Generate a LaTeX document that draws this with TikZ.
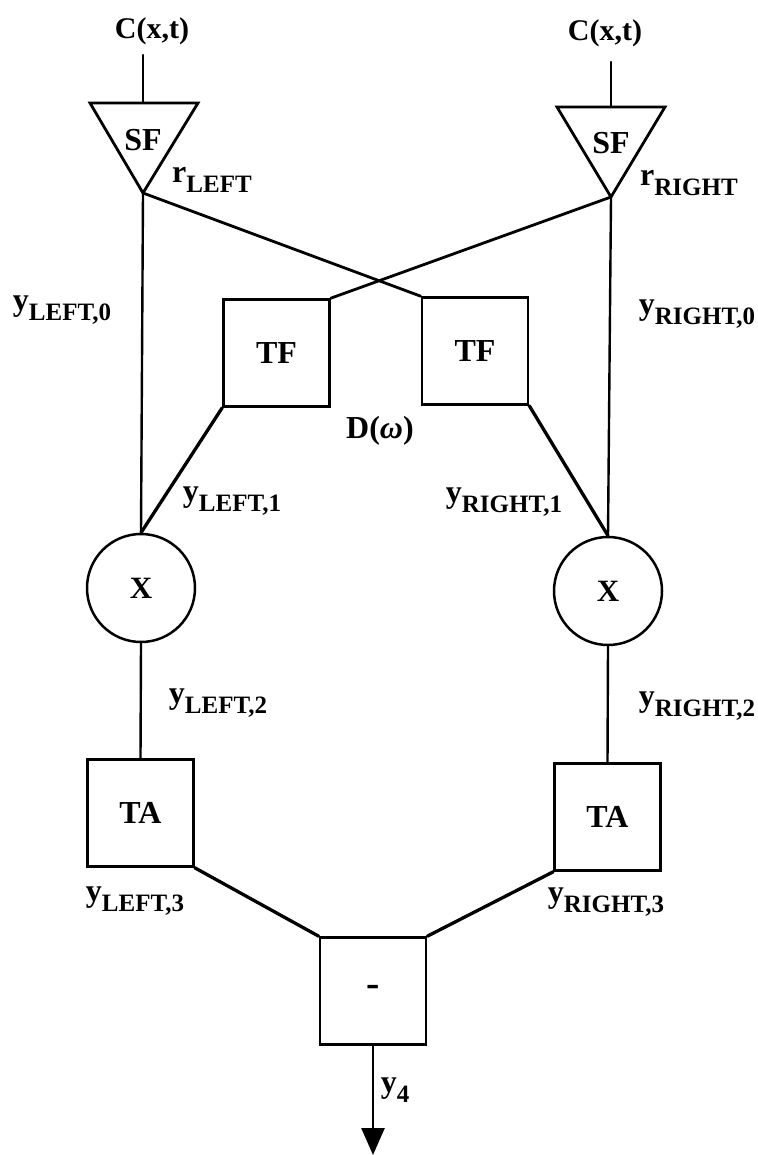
\documentclass[tikz,border=0pt]{standalone}
\usepackage{fontspec}
\setmainfont{Liberation Serif}
\usetikzlibrary{arrows.meta}

% label with a lowered subscript, e.g. y_{LEFT,0}
\newcommand\sublbl[2]{#1\raisebox{-0.3em}{\fontsize{25pt}{25pt}\selectfont #2}}

\tikzset{
  wire/.style={line width=2.8pt, line cap=round, line join=round},
  vwire/.style={line width=2.4pt, line cap=round},
  blk/.style={draw, line width=2.6pt, rectangle, minimum width=106pt,
              minimum height=107pt, inner sep=0pt,
              font=\fontsize{32pt}{32pt}\selectfont\bfseries},
  mult/.style={draw, line width=2.5pt, circle, minimum size=108pt,
               inner sep=0pt, font=\fontsize{31pt}{31pt}\selectfont\bfseries},
  tri/.style={line width=2.8pt, line join=miter},
  lbl/.style={inner sep=0pt, font=\fontsize{32pt}{32pt}\selectfont\bfseries},
  inlbl/.style={inner sep=0pt, font=\fontsize{30pt}{30pt}\selectfont\bfseries},
  sflbl/.style={inner sep=0pt, font=\fontsize{32pt}{32pt}\selectfont\bfseries}
}

\begin{document}
\begin{tikzpicture}[x=1pt,y=-1pt]
  \fill[white] (0,0) rectangle (757,1155);
  \useasboundingbox (0,0) rectangle (757,1155);

  % spatial filters (downward triangles)
  \coordinate (sfLa) at (90,103);
  \coordinate (sfLb) at (198,103);
  \coordinate (sfLtip) at (143,193);
  \coordinate (sfLtop) at (143,103);
  \coordinate (sfRa) at (557,107);
  \coordinate (sfRb) at (665,107);
  \coordinate (sfRtip) at (611,197);
  \coordinate (sfRtop) at (611,107);
  \draw[tri] (sfLa) -- (sfLb) -- (sfLtip) -- cycle;
  \draw[tri] (sfRa) -- (sfRb) -- (sfRtip) -- cycle;
  \node[sflbl] (sfL) at (143,140) {SF};
  \node[sflbl] (sfR) at (611,143) {SF};

  % inputs
  \node[inlbl] (cL) at (152,31) {C(x,t)};
  \node[inlbl] (cR) at (605,33) {C(x,t)};
  \coordinate (inL) at (143,55);
  \coordinate (inR) at (611,62);
  \draw[vwire] (inL) -- (sfLtop);
  \draw[vwire] (inR) -- (sfRtop);

  % temporal filters
  \node[blk] (tfL) at (276.5,353) {TF};
  \node[blk] (tfR) at (475,351) {TF};

  % multipliers
  \node[mult] (xL) at (141,588) {X};
  \node[mult] (xR) at (608,591) {X};

  % temporal averaging
  \node[blk] (taL) at (140.5,813) {TA};
  \node[blk] (taR) at (607.5,817) {TA};

  % difference
  \node[blk, font=\fontsize{40pt}{40pt}\selectfont\bfseries] (diff) at (373,991) {-};
  \coordinate (out) at (373,1155);

  % connections
  \draw[vwire] (sfLtip) -- (xL.north);
  \draw[vwire] (sfRtip) -- (xR.north);
  \draw[wire] (sfLtip) -- (tfR.north west);
  \draw[wire] (sfRtip) -- (tfL.north east);
  \draw[wire, line width=3.3pt] (tfL.south west) -- (xL.north);
  \draw[wire, line width=3.3pt] (tfR.south east) -- (xR.north);
  \draw[vwire] (xL.south) -- (taL.north);
  \draw[vwire] (xR.south) -- (taR.north);
  \draw[wire, line width=3.3pt] (taL.south east) -- (diff.north west);
  \draw[wire, line width=3.3pt] (taR.south west) -- (diff.north east);
  \draw[line width=2.6pt, -{Triangle[width=23pt,length=27pt]}] (diff.south) -- (out);

  % signal labels
  \node[lbl, anchor=west] (rL) at (172,180) {\sublbl{r}{LEFT}};
  \node[lbl, anchor=west] (rR) at (640,183) {\sublbl{r}{RIGHT}};
  \node[lbl] (yL0) at (62,310) {\sublbl{y}{LEFT,0}};
  \node[lbl] (yR0) at (697,314) {\sublbl{y}{RIGHT,0}};
  \node[lbl] (dw) at (380,431) {D(\textit{ω})};
  \node[lbl] (yL1) at (232,501) {\sublbl{y}{LEFT,1}};
  \node[lbl] (yR1) at (504,502) {\sublbl{y}{RIGHT,1}};
  \node[lbl] (yL2) at (218,703) {\sublbl{y}{LEFT,2}};
  \node[lbl] (yR2) at (697,706) {\sublbl{y}{RIGHT,2}};
  \node[lbl] (yL3) at (135,901) {\sublbl{y}{LEFT,3}};
  \node[lbl] (yR3) at (606,902) {\sublbl{y}{RIGHT,3}};
  \node[lbl] (y4) at (395,1090) {\sublbl{y}{4}};
\end{tikzpicture}
\end{document}
